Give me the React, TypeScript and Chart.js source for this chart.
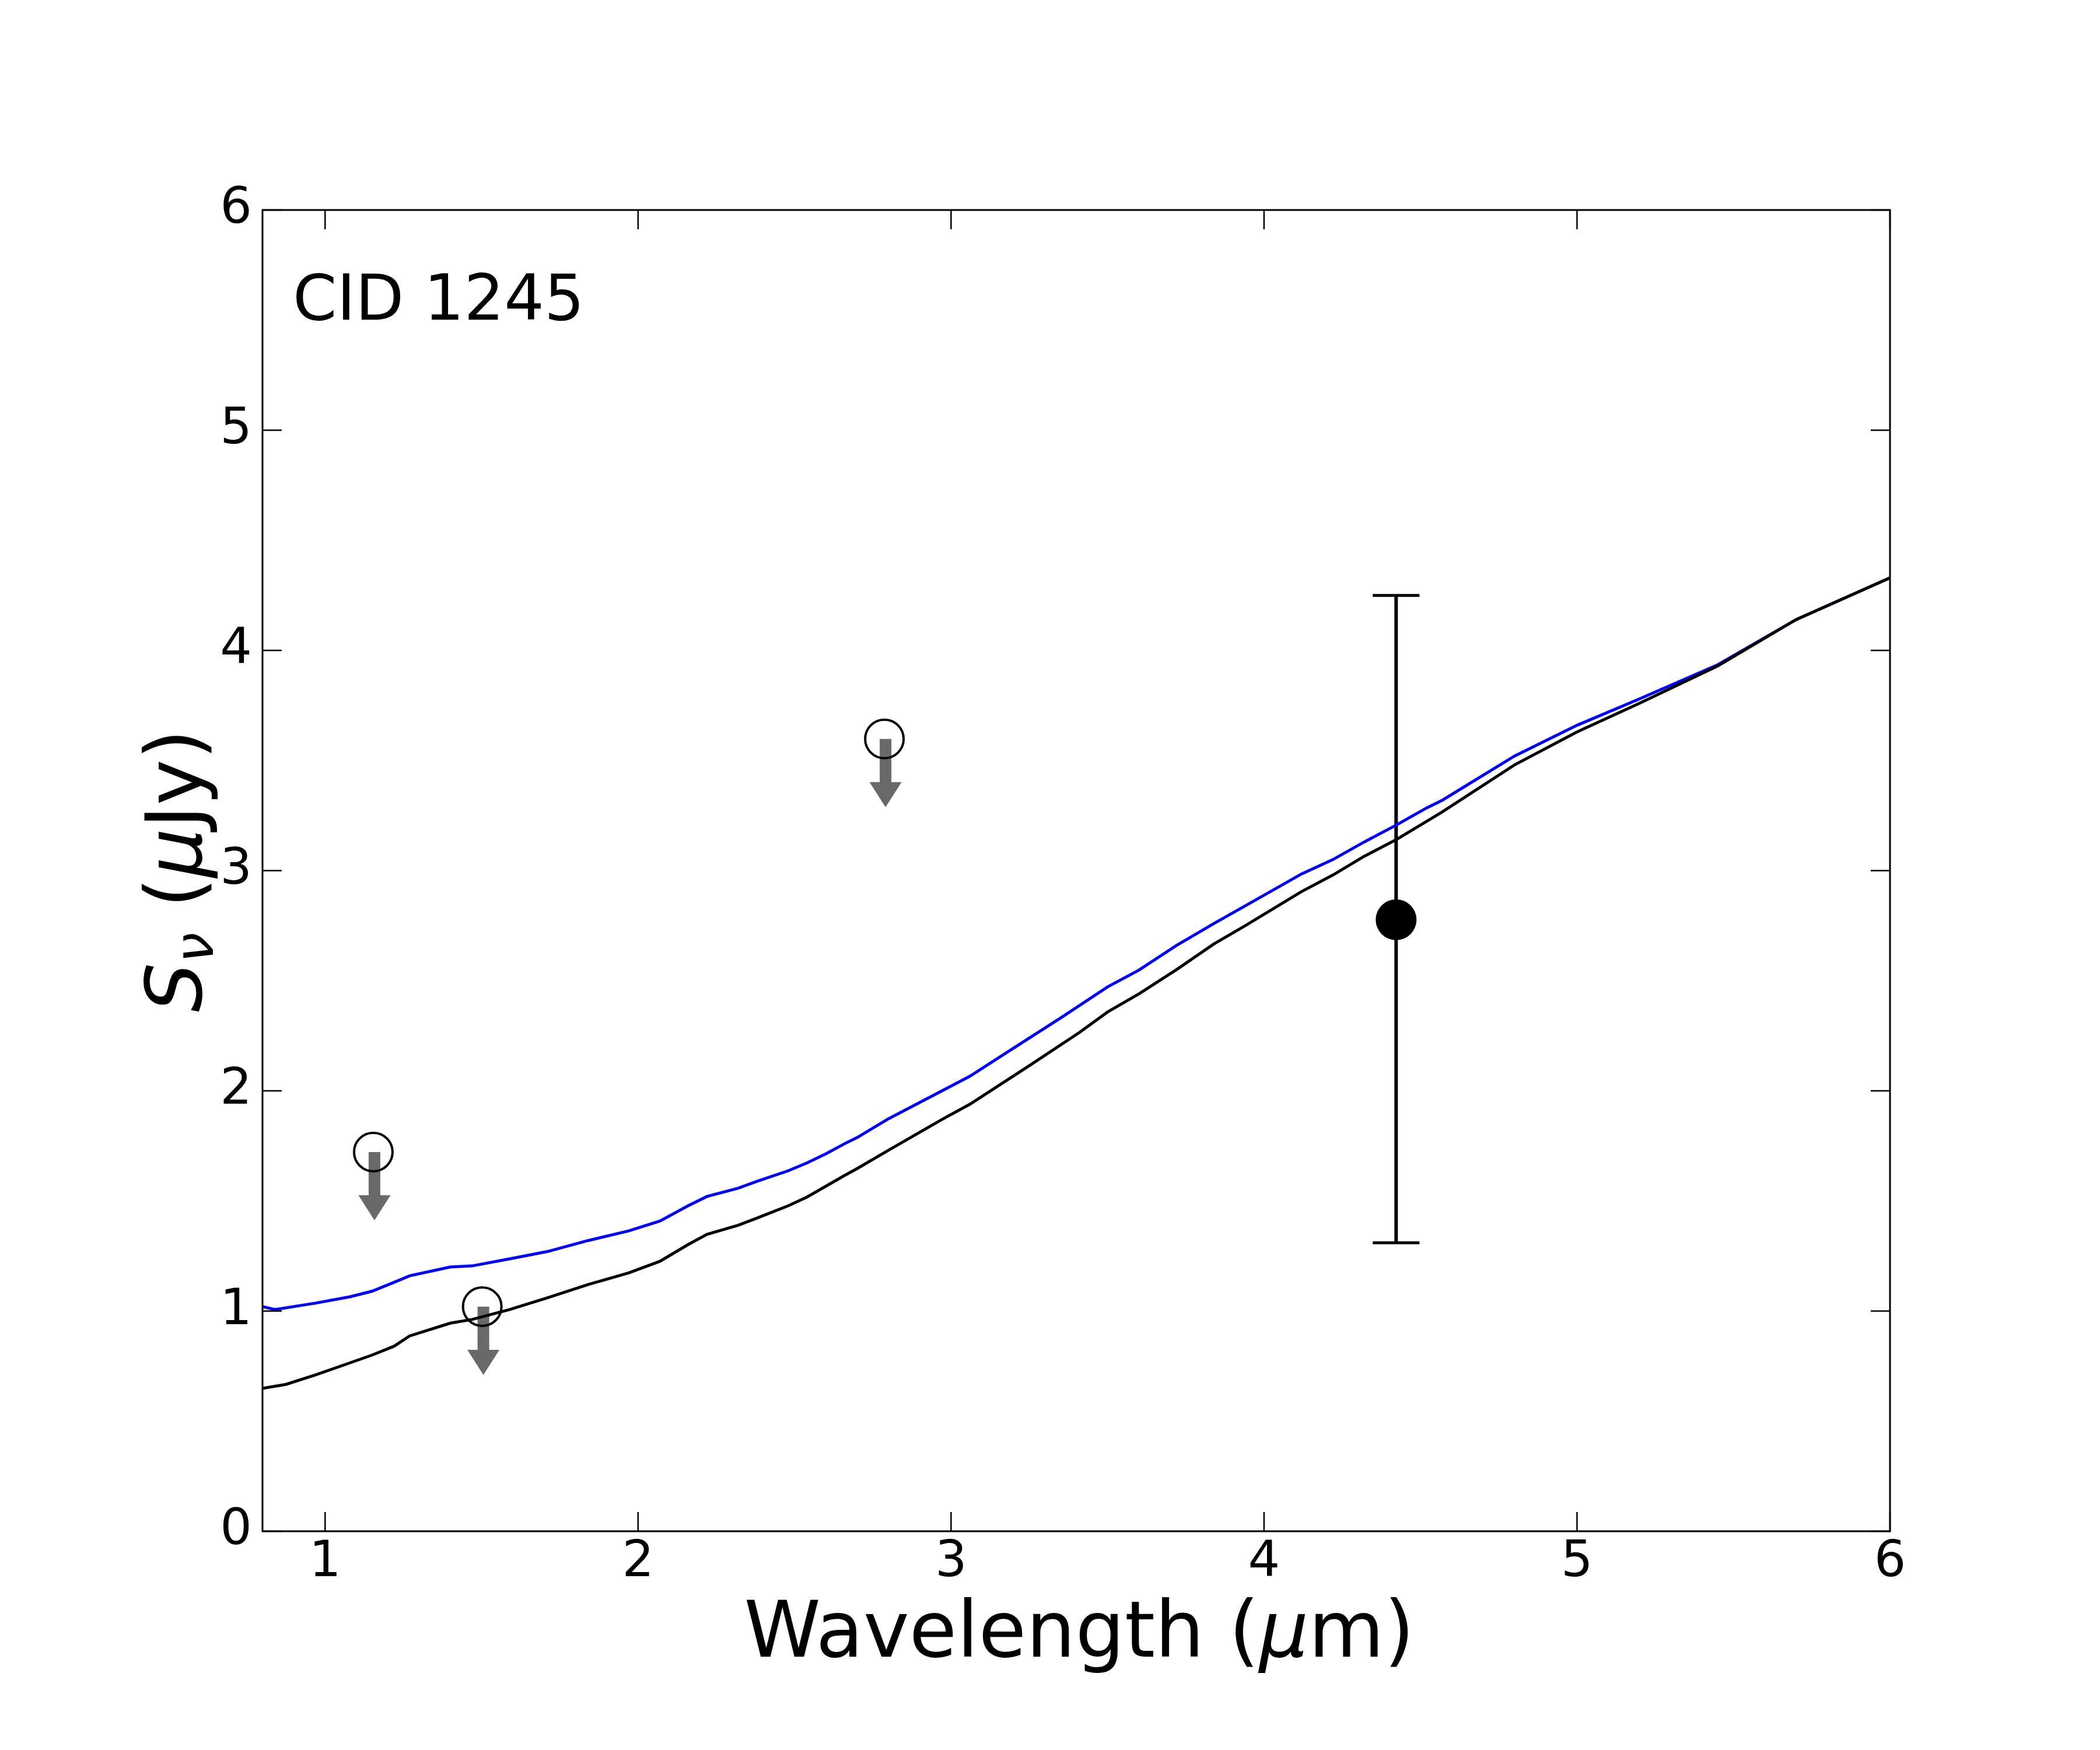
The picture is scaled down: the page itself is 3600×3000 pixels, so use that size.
import React, { useEffect, useRef } from "react";
import { Chart, registerables } from "chart.js";

Chart.register(...registerables);

// ---------- data ----------
const BLUE_X = [0.8, 0.84, 0.97, 1.08, 1.15, 1.22, 1.27, 1.4, 1.47, 1.59, 1.71, 1.84, 1.97, 2.07, 2.16, 2.22, 2.32, 2.38, 2.48, 2.54, 2.6, 2.66, 2.7, 2.8, 3.06, 3.19, 3.35, 3.5, 3.6, 3.72, 3.84, 3.94, 4.12, 4.22, 4.32, 4.42, 4.52, 4.57, 4.8, 5.0, 5.2, 5.45, 5.7, 6.0];
const BLUE_Y = [1.02, 1.007, 1.036, 1.065, 1.09, 1.13, 1.16, 1.2, 1.205, 1.237, 1.27, 1.32, 1.364, 1.409, 1.478, 1.52, 1.558, 1.589, 1.637, 1.673, 1.714, 1.76, 1.788, 1.873, 2.066, 2.185, 2.331, 2.472, 2.548, 2.66, 2.76, 2.84, 2.985, 3.05, 3.13, 3.205, 3.285, 3.32, 3.52, 3.66, 3.78, 3.935, 4.14, 4.33];

const BLACK_X = [0.8, 0.875, 0.97, 1.06, 1.15, 1.22, 1.27, 1.4, 1.47, 1.59, 1.71, 1.84, 1.97, 2.07, 2.16, 2.22, 2.32, 2.38, 2.48, 2.54, 2.6, 2.66, 2.7, 2.8, 2.975, 3.06, 3.25, 3.41, 3.5, 3.6, 3.72, 3.84, 3.94, 4.12, 4.22, 4.32, 4.42, 4.52, 4.57, 4.8, 5.0, 5.2, 5.45, 5.7, 6.0];
const BLACK_Y = [0.649, 0.667, 0.71, 0.755, 0.8, 0.84, 0.887, 0.945, 0.962, 1.007, 1.06, 1.12, 1.173, 1.226, 1.302, 1.348, 1.39, 1.422, 1.478, 1.518, 1.567, 1.616, 1.647, 1.73, 1.873, 1.939, 2.114, 2.265, 2.358, 2.44, 2.55, 2.667, 2.75, 2.905, 2.98, 3.065, 3.139, 3.224, 3.267, 3.48, 3.63, 3.76, 3.93, 4.14, 4.33];

// upper limits (circle + downward arrow)
const UL_X = [1.154, 1.502, 2.787];
const UL_Y = [1.722, 1.02, 3.598];
const ARROW_LEN = 0.31; // data units

// detection with error bar
const DET_X = [4.422];
const DET_Y = [2.777];
const DET_LO = [1.31];
const DET_HI = [4.25];

const X_TICKS = [1, 2, 3, 4, 5, 6];
const Y_TICKS = [0, 1, 2, 3, 4, 5, 6];

const LABEL = "CID 1245";
type Seg = { t: string; italic?: boolean; scale?: number; dy?: number };
const X_TITLE: Seg[] = [{ t: "Wavelength (" }, { t: "μ", italic: true }, { t: "m)" }];
const Y_TITLE: Seg[] = [
  { t: "S", italic: true },
  { t: "ν", italic: true, scale: 0.7, dy: 20 },
  { t: " (" },
  { t: "μ", italic: true },
  { t: "Jy)" },
];

// ---------- styling ----------
const FAMILY = "'DejaVu Sans', sans-serif";
const TICK_FONT = 86;
const TITLE_FONT = 133;
const LABEL_FONT = 108;

function segFont(s: Seg, size: number) {
  return `${s.italic ? "italic " : ""}${Math.round(size * (s.scale ?? 1))}px ${FAMILY}`;
}

function drawSegs(ctx: CanvasRenderingContext2D, segs: Seg[], size: number, cx: number, by: number) {
  let total = 0;
  const widths = segs.map((s) => {
    ctx.font = segFont(s, size);
    const w = ctx.measureText(s.t).width;
    total += w;
    return w;
  });
  let x = cx - total / 2;
  ctx.textBaseline = "alphabetic";
  ctx.textAlign = "left";
  segs.forEach((s, i) => {
    ctx.font = segFont(s, size);
    ctx.fillText(s.t, x, by + (s.dy ?? 0));
    x += widths[i];
  });
}

const decor = {
  id: "decor",
  beforeDatasetsDraw(chart: any) {
    const ctx: CanvasRenderingContext2D = chart.ctx;
    const xs = chart.scales.x;
    const ys = chart.scales.y;
    ctx.save();
    // upper-limit arrows
    ctx.fillStyle = "#696969";
    UL_X.forEach((xv, i) => {
      const px = xs.getPixelForValue(xv) + 2;
      const top = ys.getPixelForValue(UL_Y[i]);
      const tip = ys.getPixelForValue(UL_Y[i] - ARROW_LEN);
      const headLen = 43;
      const shaftW = 20;
      const headW = 55;
      ctx.fillRect(px - shaftW / 2, top, shaftW, tip - headLen - top + 1);
      ctx.beginPath();
      ctx.moveTo(px - headW / 2, tip - headLen);
      ctx.lineTo(px + headW / 2, tip - headLen);
      ctx.lineTo(px, tip);
      ctx.closePath();
      ctx.fill();
    });
    // error bars
    ctx.strokeStyle = "#000";
    DET_X.forEach((xv, i) => {
      const px = xs.getPixelForValue(xv);
      const lo = ys.getPixelForValue(DET_LO[i]);
      const hi = ys.getPixelForValue(DET_HI[i]);
      ctx.lineWidth = 6;
      ctx.beginPath();
      ctx.moveTo(px, lo);
      ctx.lineTo(px, hi);
      ctx.stroke();
      ctx.lineWidth = 5;
      ctx.beginPath();
      ctx.moveTo(px - 40, lo);
      ctx.lineTo(px + 40, lo);
      ctx.moveTo(px - 40, hi);
      ctx.lineTo(px + 40, hi);
      ctx.stroke();
    });
    ctx.restore();
  },
  afterDraw(chart: any) {
    const ctx: CanvasRenderingContext2D = chart.ctx;
    const { left, right, top, bottom } = chart.chartArea;
    const xs = chart.scales.x;
    const ys = chart.scales.y;
    ctx.save();
    // frame
    ctx.strokeStyle = "#000";
    ctx.lineWidth = 3;
    ctx.strokeRect(left, top, right - left, bottom - top);
    // inward ticks on all sides
    ctx.lineWidth = 2.5;
    const TL = 33;
    ctx.beginPath();
    X_TICKS.forEach((v) => {
      const px = xs.getPixelForValue(v);
      ctx.moveTo(px, bottom);
      ctx.lineTo(px, bottom - TL);
      ctx.moveTo(px, top);
      ctx.lineTo(px, top + TL);
    });
    Y_TICKS.forEach((v) => {
      const py = ys.getPixelForValue(v);
      ctx.moveTo(left, py);
      ctx.lineTo(left + TL, py);
      ctx.moveTo(right, py);
      ctx.lineTo(right - TL, py);
    });
    ctx.stroke();
    // label
    ctx.fillStyle = "#000";
    ctx.font = `${LABEL_FONT}px ${FAMILY}`;
    ctx.textAlign = "left";
    ctx.textBaseline = "alphabetic";
    ctx.fillText(LABEL, left + 52, top + 188);
    // x title
    drawSegs(ctx, X_TITLE, TITLE_FONT, (left + right) / 2 + 5, bottom + 215);
    // y title
    ctx.save();
    ctx.translate(left - 105, (top + bottom) / 2);
    ctx.rotate(-Math.PI / 2);
    drawSegs(ctx, Y_TITLE, TITLE_FONT, 0, 0);
    ctx.restore();
    ctx.restore();
  },
};

export default function App() {
  const ref = useRef<HTMLCanvasElement>(null);
  useEffect(() => {
    const canvas = ref.current;
    if (!canvas) return;
    const chart = new Chart(canvas, {
      type: "scatter",
      data: {
        datasets: [
          {
            label: "detection",
            data: DET_X.map((x, i) => ({ x, y: DET_Y[i] })),
            pointRadius: 35,
            pointBackgroundColor: "#000",
            pointBorderColor: "#000",
            pointBorderWidth: 0,
            showLine: false,
          },
          {
            label: "upper limits",
            data: UL_X.map((x, i) => ({ x, y: UL_Y[i] })),
            pointRadius: 33,
            pointBackgroundColor: "rgba(0,0,0,0)",
            pointBorderColor: "#000",
            pointBorderWidth: 4,
            showLine: false,
          },
          {
            label: "model (black)",
            data: BLACK_X.map((x, i) => ({ x, y: BLACK_Y[i] })),
            showLine: true,
            borderColor: "#000000",
            borderWidth: 5,
            pointRadius: 0,
            tension: 0,
          },
          {
            label: "model (blue)",
            data: BLUE_X.map((x, i) => ({ x, y: BLUE_Y[i] })),
            showLine: true,
            borderColor: "#0000ff",
            borderWidth: 5,
            pointRadius: 0,
            tension: 0,
          },
        ],
      },
      options: {
        animation: false,
        responsive: false,
        devicePixelRatio: 1,
        layout: { padding: { left: 0, right: 360, top: 360, bottom: 0 } },
        plugins: { legend: { display: false }, tooltip: { enabled: false } },
        scales: {
          x: {
            type: "linear",
            min: 0.8,
            max: 6,
            grid: { display: false, drawTicks: false },
            border: { display: false },
            ticks: {
              color: "#000",
              font: { family: FAMILY, size: TICK_FONT, lineHeight: 1 },
              padding: 12,
              autoSkip: false,
              maxRotation: 0,
              callback: (v: any) => String(v),
            },
            afterBuildTicks: (s: any) => {
              s.ticks = X_TICKS.map((v) => ({ value: v }));
            },
            afterFit: (s: any) => {
              s.height = 375;
            },
          },
          y: {
            type: "linear",
            min: 0,
            max: 6,
            grid: { display: false, drawTicks: false },
            border: { display: false },
            ticks: {
              color: "#000",
              font: { family: FAMILY, size: TICK_FONT },
              padding: 18,
              autoSkip: false,
              callback: (v: any) => String(v),
            },
            afterBuildTicks: (s: any) => {
              s.ticks = Y_TICKS.map((v) => ({ value: v }));
            },
            afterFit: (s: any) => {
              s.width = 450;
            },
          },
        },
      },
      plugins: [decor],
    } as any);
    return () => chart.destroy();
  }, []);
  return (
    <div style={{ position: "absolute", left: 0, top: 0, width: 3600, height: 3000, background: "#fff" }}>
      <canvas ref={ref} width={3600} height={3000} style={{ width: 3600, height: 3000, display: "block" }} />
    </div>
  );
}
